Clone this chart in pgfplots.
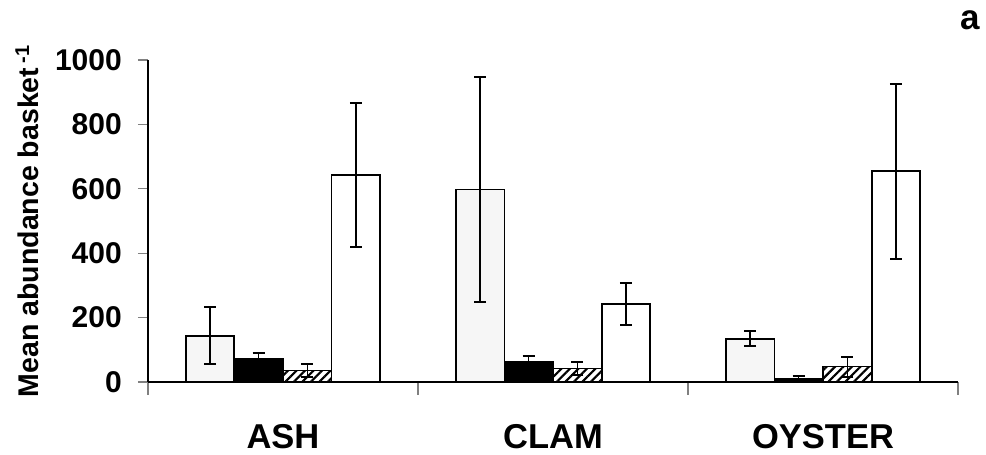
\documentclass[border=0pt]{standalone}
\usepackage{pgfplots}
\pgfplotsset{compat=1.18}
\usepackage{fontspec}
\setmainfont{Liberation Sans}
\usetikzlibrary{patterns.meta}
\begin{document}
\begin{tikzpicture}
\useasboundingbox (-148pt,-73pt) rectangle (838pt,382pt);
\begin{axis}[
  at={(0pt,0pt)}, anchor=south west,
  scale only axis, width=810pt, height=322pt,
  xmin=-0.5, xmax=2.5, ymin=0, ymax=1000,
  axis x line*=bottom, axis y line*=left,
  axis line style={line width=1.3pt},
  xtick={0,1,2}, xticklabels={ASH,CLAM,OYSTER},
  major x tick style={draw=none},
  minor xtick={-0.5,0.5,1.5,2.5},
  minor x tick style={line width=1.3pt},
  minor tick length=13pt,
  ytick={0,200,...,1000},
  major tick length=10pt,
  y tick style={line width=1.3pt},
  tick align=outside,
  /pgf/number format/assume math mode=true,
  /pgf/number format/1000 sep={},
  yticklabel style={font=\bfseries\fontsize{30}{30}\selectfont, anchor=east, inner sep=0pt, xshift=-16pt},
  xticklabel style={font=\bfseries\fontsize{34.5}{34.5}\selectfont, anchor=base, inner sep=0pt, yshift=-56pt},
  ylabel={Mean abundance basket\,\textsuperscript{-1}},
  ylabel style={font=\bfseries\fontsize{28.5}{28.5}\selectfont, at={(rel axis cs:0,0.5)}, anchor=center, yshift=121pt},
  ybar=0pt, bar width=0.18,
  every axis plot/.append style={line width=1.8pt, draw=black},
  error bars/y dir=both, error bars/y explicit,
  error bars/error mark=-,
  error bars/error bar style={line width=1.5pt, black},
  error bars/error mark options={rotate=90, mark size=6pt, line width=2pt, black},
]
\addplot[bar shift=-0.27, fill=gray!7, draw=black, line width=1.8pt] coordinates {(0,144) +- (0,89) (1,598) +- (0,350) (2,134) +- (0,23)};
\addplot[bar shift=-0.09, fill=black, draw=black, line width=1.8pt] coordinates {(0,71) +- (0,19) (1,63) +- (0,19) (2,11) +- (0,8)};
\addplot[bar shift=0.09, draw=black, line width=1.8pt, pattern={Lines[angle=45, distance=6pt, line width=2.2pt]}, pattern color=black] coordinates {(0,36) +- (0,21) (1,42) +- (0,19) (2,48) +- (0,31)};
\addplot[bar shift=0.27, fill=white, draw=black, line width=1.8pt] coordinates {(0,643) +- (0,225) (1,242) +- (0,65) (2,655) +- (0,272)};
\end{axis}
\node[anchor=base east, inner sep=0pt, font=\bfseries\fontsize{35}{35}\selectfont] at (832pt,352pt) {a};
\end{tikzpicture}
\end{document}
